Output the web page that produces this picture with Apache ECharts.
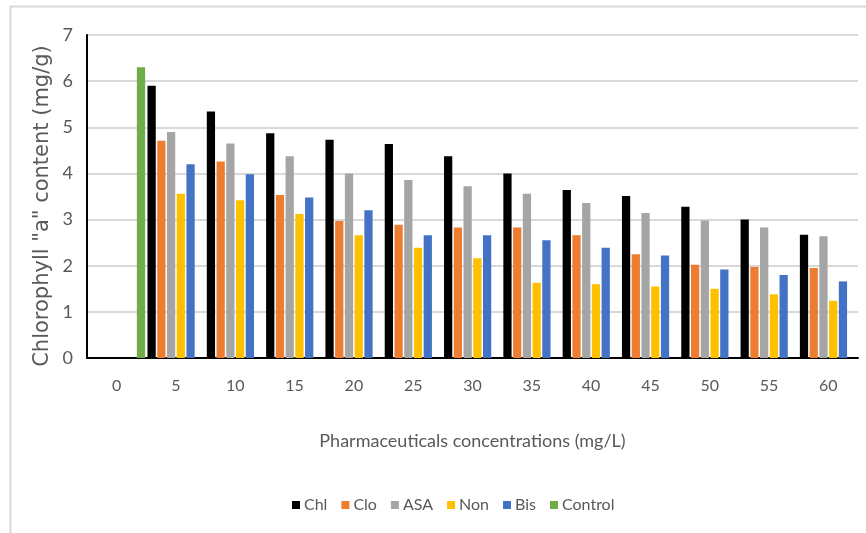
<!DOCTYPE html>
<html>
<head>
<meta charset="utf-8">
<script src="https://cdn.jsdelivr.net/npm/echarts@6/dist/echarts.min.js"></script>
<style>
html,body{margin:0;padding:0;background:#fff;}
#chart{width:866px;height:533px;}
</style>
</head>
<body>
<div id="chart"></div>
<script>
var categories = ['0','5','10','15','20','25','30','35','40','45','50','55','60'];
var chl     = [null, 5.90, 5.34, 4.87, 4.73, 4.64, 4.37, 4.00, 3.64, 3.51, 3.28, 3.00, 2.67];
var clo     = [null, 4.71, 4.26, 3.53, 2.97, 2.89, 2.83, 2.83, 2.66, 2.25, 2.02, 1.97, 1.95];
var asa     = [null, 4.90, 4.65, 4.37, 4.00, 3.86, 3.72, 3.56, 3.36, 3.14, 2.98, 2.83, 2.64];
var non     = [null, 3.56, 3.42, 3.12, 2.66, 2.39, 2.16, 1.63, 1.60, 1.55, 1.50, 1.38, 1.24];
var bis     = [null, 4.20, 3.98, 3.48, 3.20, 2.66, 2.66, 2.55, 2.39, 2.22, 1.92, 1.80, 1.66];
var control = [6.30, null, null, null, null, null, null, null, null, null, null, null, null];
var seriesNames = ['Chl','Clo','ASA','Non','Bis','Control'];
var seriesColors = ['#000000','#ED7D31','#A5A5A5','#FFC000','#4472C4','#70AD47'];
var seriesData = [chl, clo, asa, non, bis, control];
var yTitle = 'Chlorophyll "a" content (mg/g)';

var narrow = 'Lato, "Open Sans", sans-serif';
var chart = echarts.init(document.getElementById('chart'));
chart.setOption({
  animation: false,
  backgroundColor: '#fff',
  graphic: [{
    type: 'polyline',
    shape: {points: [[10.5, 533], [10.5, 6.5], [866, 6.5]]},
    style: {stroke: '#d9d9d9', lineWidth: 2, fill: null},
    silent: true
  }, {
    type: 'text',
    x: 43, y: 206,
    rotation: Math.PI / 2,
    style: {
      text: yTitle,
      fill: '#595959',
      fontSize: 21,
      fontFamily: '"DejaVu Sans",Verdana,sans-serif',
      align: 'center',
      verticalAlign: 'middle'
    },
    silent: true
  }],
  grid: {left: 87, right: 8, top: 35, bottom: 175, containLabel: false},
  legend: {
    left: 287, top: 492,
    itemWidth: 8, itemHeight: 8, itemGap: 14,
    icon: 'rect',
    textStyle: {color: '#595959', fontSize: 16, fontFamily: narrow, padding: [0,0,0,-1]},
    data: seriesNames
  },
  xAxis: {
    type: 'category',
    data: categories,
    axisLine: {lineStyle: {color: '#000', width: 2}},
    axisTick: {show: false},
    axisLabel: {color: '#595959', fontSize: 16, fontFamily: narrow, margin: 20},
    name: 'Pharmaceuticals concentrations (mg/L)',
    nameLocation: 'middle',
    nameGap: 74,
    nameTextStyle: {color: '#595959', fontSize: 18, fontFamily: narrow}
  },
  yAxis: {
    type: 'value',
    min: 0, max: 7, interval: 1,
    axisLine: {show: true, lineStyle: {color: '#000', width: 2}},
    axisTick: {show: false},
    splitLine: {lineStyle: {color: '#d9d9d9', width: 2}},
    axisLabel: {color: '#595959', fontSize: 18, fontFamily: narrow, margin: 14}
  },
  series: seriesData.map(function (d, i) {
    return {
      name: seriesNames[i],
      type: 'bar',
      data: d,
      barGap: '18%',
      barCategoryGap: '4%',
      itemStyle: {color: seriesColors[i]}
    };
  })
});
</script>
</body>
</html>
